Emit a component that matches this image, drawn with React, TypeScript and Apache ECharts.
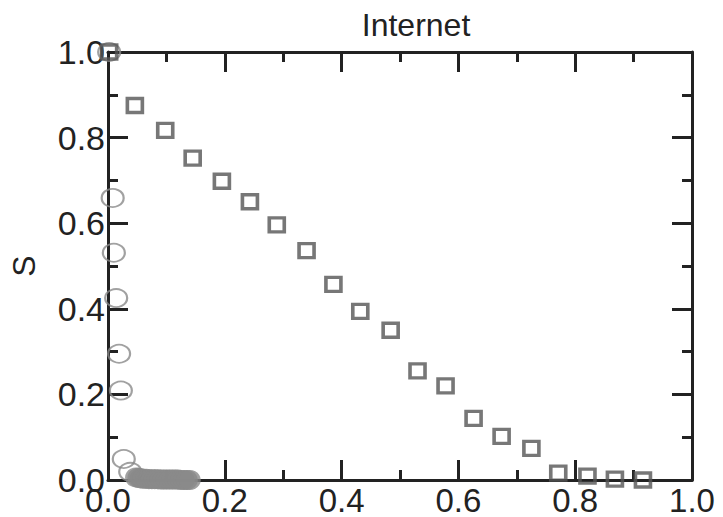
import React, { useEffect, useRef } from "react";
import * as echarts from "echarts";

const squareX = [0.002, 0.046, 0.098, 0.145, 0.195, 0.243, 0.289, 0.340, 0.386, 0.432, 0.484, 0.530, 0.578, 0.626, 0.674, 0.725, 0.771, 0.821, 0.868, 0.916];
const squareY = [1.0, 0.875, 0.817, 0.752, 0.698, 0.650, 0.596, 0.536, 0.457, 0.394, 0.350, 0.255, 0.220, 0.144, 0.102, 0.074, 0.016, 0.009, 0.002, 0.0];

const circleX = [0.002, 0.008, 0.010, 0.014, 0.019, 0.022, 0.027, 0.038];
const circleY = [1.0, 0.659, 0.531, 0.425, 0.295, 0.209, 0.049, 0.019];

const clusterX = [0.048, 0.052, 0.056, 0.06, 0.065, 0.07, 0.075, 0.08, 0.085, 0.09, 0.095, 0.10, 0.105, 0.11, 0.115, 0.12, 0.125, 0.13, 0.135, 0.14];
const clusterY = [0.006, 0.005, 0.004, 0.003, 0.003, 0.002, 0.002, 0.002, 0.002, 0.001, 0.001, 0.001, 0.001, 0.001, 0.001, 0.001, 0.0, 0.0, 0.0, 0.0];

const xTicks = ["0.0", "0.2", "0.4", "0.6", "0.8", "1.0"];

const FONT = "'Liberation Sans', Arial, sans-serif";

export default function App() {
  const ref = useRef<HTMLDivElement>(null);
  useEffect(() => {
    if (!ref.current) return;
    const chart = echarts.init(ref.current, undefined, { renderer: "svg" });
    const axisCommon = {
      type: "value" as const,
      min: 0,
      max: 1,
      interval: 0.2,
      axisLine: { show: true, onZero: false, lineStyle: { color: "#222", width: 3 } },
      axisTick: { show: true, inside: true, length: 20, lineStyle: { color: "#222", width: 3 } },
      minorTick: { show: true, splitNumber: 2, length: 10, lineStyle: { color: "#222", width: 3 } },
      splitLine: { show: false },
    };
    const fmt = (v: number) => xTicks[Math.round(v * 5)];
    chart.setOption({
      animation: false,
      backgroundColor: "#fff",
      title: {
        text: "Internet",
        left: 411,
        top: 4,
        textAlign: "center",
        textStyle: { fontFamily: FONT, fontSize: 32, fontWeight: "normal", color: "#222" },
      },
      grid: { left: 106, right: 31, top: 52, bottom: 34, containLabel: false },
      xAxis: [
        {
          ...axisCommon,
          position: "bottom",
          axisLabel: { color: "#222", fontFamily: FONT, fontSize: 33, margin: 4, formatter: fmt },
        },
        { ...axisCommon, position: "top", axisLabel: { show: false } },
      ],
      yAxis: [
        {
          ...axisCommon,
          position: "left",
          axisLabel: { color: "#222", fontFamily: FONT, fontSize: 34, margin: 3, formatter: fmt },
          name: "S",
          nameLocation: "middle",
          nameRotate: 90,
          nameGap: 68,
          nameTextStyle: { fontFamily: FONT, fontSize: 32, color: "#222" },
        },
        { ...axisCommon, position: "right", axisLabel: { show: false } },
      ],
      series: [
        {
          type: "scatter",
          data: clusterX.map((x, i) => [x, clusterY[i]]),
          symbol: "circle",
          symbolSize: [22, 20],
          itemStyle: { color: "#8a8a8a" },
          z: 2,
        },
        {
          type: "scatter",
          data: circleX.map((x, i) => [x, circleY[i]]),
          symbol: "circle",
          symbolSize: [22, 18],
          itemStyle: { color: "rgba(255,255,255,0)", borderColor: "#8a8a8a", borderWidth: 2 },
          z: 3,
        },
        {
          type: "scatter",
          data: squareX.map((x, i) => [x, squareY[i]]),
          symbol: "rect",
          symbolSize: [15, 14],
          itemStyle: { color: "rgba(255,255,255,0)", borderColor: "#555", borderWidth: 3.5 },
          z: 4,
        },
      ],
    });
    return () => chart.dispose();
  }, []);
  return <div ref={ref} style={{ position: "fixed", left: 0, top: 0, width: 723, height: 517 }} />;
}
